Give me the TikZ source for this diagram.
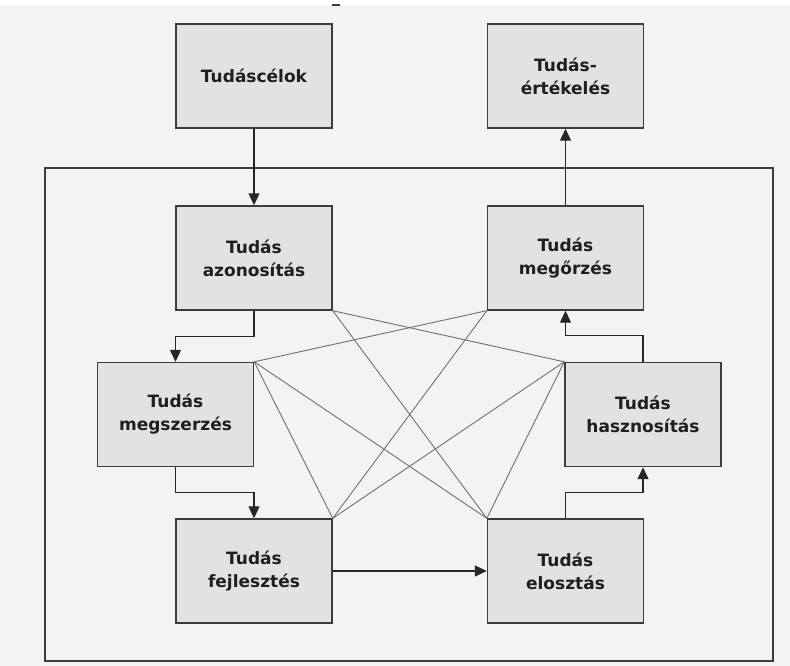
\documentclass[tikz,border=0pt]{standalone}
\usepackage{fontspec}
\setmainfont{DejaVu Sans}
\usetikzlibrary{arrows.meta}
\definecolor{bg}{HTML}{F3F3F3}
\definecolor{boxfill}{HTML}{E2E2E2}
\definecolor{edge}{HTML}{3C3C3C}
\definecolor{web}{HTML}{707070}
\begin{document}
\begin{tikzpicture}[x=1pt,y=-1pt,
  stage/.style={draw=edge, line width=1.4pt, fill=boxfill,
    minimum width=156pt, minimum height=104pt, inner sep=0pt,
    align=center, text=black!88,
    font=\fontsize{17}{23}\selectfont\bfseries},
  flow/.style={draw=black!85, line width=1.2pt,
    -{Triangle[length=12pt,width=11pt]}},
  link/.style={draw=web, line width=0.9pt},
  frame/.style={draw=edge, line width=1.4pt}]

% canvas
\useasboundingbox (0,0) rectangle (790,666);
\fill[bg] (0,5) rectangle (790,666);
\draw[edge, line width=1.5pt] (332,5) -- (340,5);

% enclosing frame of the cycle
\draw[frame] (45,168) rectangle (773,661);

% stages
\node[stage] (goals) at (254,76)    {Tudáscélok};
\node[stage] (eval)  at (565.5,76)  {Tudás-\\értékelés};
\node[stage] (ident) at (254,258)   {Tudás\\azonosítás};
\node[stage] (keep)  at (565.5,258) {Tudás\\megőrzés};
\node[stage] (acq)   at (175.5,414.5) {Tudás\\megszerzés};
\node[stage] (use)   at (643,414.5) {Tudás\\hasznosítás};
\node[stage] (dev)   at (254,571)   {Tudás\\fejlesztés};
\node[stage] (dist)  at (565.5,571) {Tudás\\elosztás};

% cross links between the stages
\draw[link] (ident.south east) -- (use.north west);
\draw[link] (ident.south east) -- (dist.north west);
\draw[link] (keep.south west)  -- (acq.north east);
\draw[link] (keep.south west)  -- (dev.north east);
\draw[link] (acq.north east)   -- (dev.north east);
\draw[link] (acq.north east)   -- (dist.north west);
\draw[link] (use.north west)   -- (dev.north east);
\draw[link] (use.north west)   -- (dist.north west);

% main flow
\draw[flow] (goals.south) -- (ident.north);
\draw[flow] (keep.north) -- (eval.south);
\draw[flow] (ident.south) -- ++(0,26) -| (acq.north);
\draw[flow] (acq.south) -- ++(0,25) -| (dev.north);
\draw[flow] (dev.east) -- (dist.west);
\draw[flow] (dist.north) -- ++(0,-26) -| (use.south);
\draw[flow] (use.north) -- ++(0,-26) -| (keep.south);
\end{tikzpicture}
\end{document}
